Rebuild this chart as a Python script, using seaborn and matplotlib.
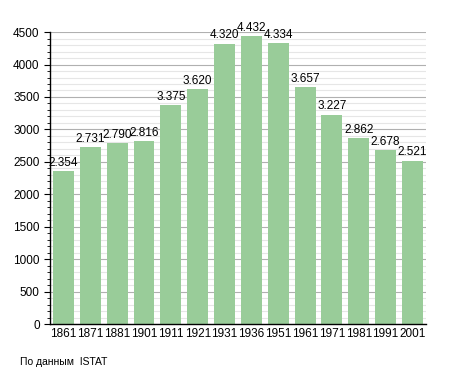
import matplotlib
matplotlib.use('Agg')
import matplotlib.pyplot as plt
import seaborn as sns
import pandas as pd
from matplotlib.ticker import MultipleLocator

# data
years = ['1861', '1871', '1881', '1901', '1911', '1921', '1931',
         '1936', '1951', '1961', '1971', '1981', '1991', '2001']
population = [2354, 2731, 2790, 2816, 3375, 3620, 4320,
              4432, 4334, 3657, 3227, 2862, 2678, 2521]
labels = ['2.354', '2.731', '2.790', '2.816', '3.375', '3.620', '4.320',
          '4.432', '4.334', '3.657', '3.227', '2.862', '2.678', '2.521']

df = pd.DataFrame({'year': years, 'pop': population})

sns.set_style('white')
plt.rcParams['font.family'] = ['Liberation Sans', 'DejaVu Sans']
plt.rcParams['text.color'] = 'black'
plt.rcParams['xtick.color'] = 'black'
plt.rcParams['ytick.color'] = 'black'

fig = plt.figure(figsize=(4.55, 3.73), dpi=100)
ax = fig.add_axes([0.11, 0.131, 0.826, 0.783])

# grid lines first
ax.yaxis.set_major_locator(MultipleLocator(500))
ax.yaxis.set_minor_locator(MultipleLocator(100))
ax.grid(which='minor', axis='y', color='#e6e6e6', linewidth=0.8)
ax.grid(which='major', axis='y', color='#b0b0b0', linewidth=0.8)
ax.set_axisbelow(True)

sns.barplot(data=df, x='year', y='pop', color='#99cc99', saturation=1,
            width=0.78, linewidth=0, ax=ax)

for i, (v, lab) in enumerate(zip(population, labels)):
    ax.text(i, v + 35, lab, ha='center', va='bottom', fontsize=8.5)

ax.set_xlim(-0.5, 13.5)
ax.set_ylim(0, 4500)
ax.set_xlabel('')
ax.set_ylabel('')
ax.tick_params(axis='both', labelsize=8.5)
ax.tick_params(axis='y', which='major', length=4, width=0.8, color='black', left=True)
ax.tick_params(axis='y', which='minor', length=2, width=0.6, color='black', left=True)
ax.tick_params(axis='x', length=0, pad=3)
for s in ['top', 'right']:
    ax.spines[s].set_visible(False)
ax.spines['left'].set_color('black')
ax.spines['bottom'].set_color('black')
ax.spines['left'].set_linewidth(1)
ax.spines['bottom'].set_linewidth(1)

fig.text(0.044, 0.03, 'По данным  ISTAT', fontsize=7.5, ha='left', va='center')

fig.savefig('out.png', dpi=100)
